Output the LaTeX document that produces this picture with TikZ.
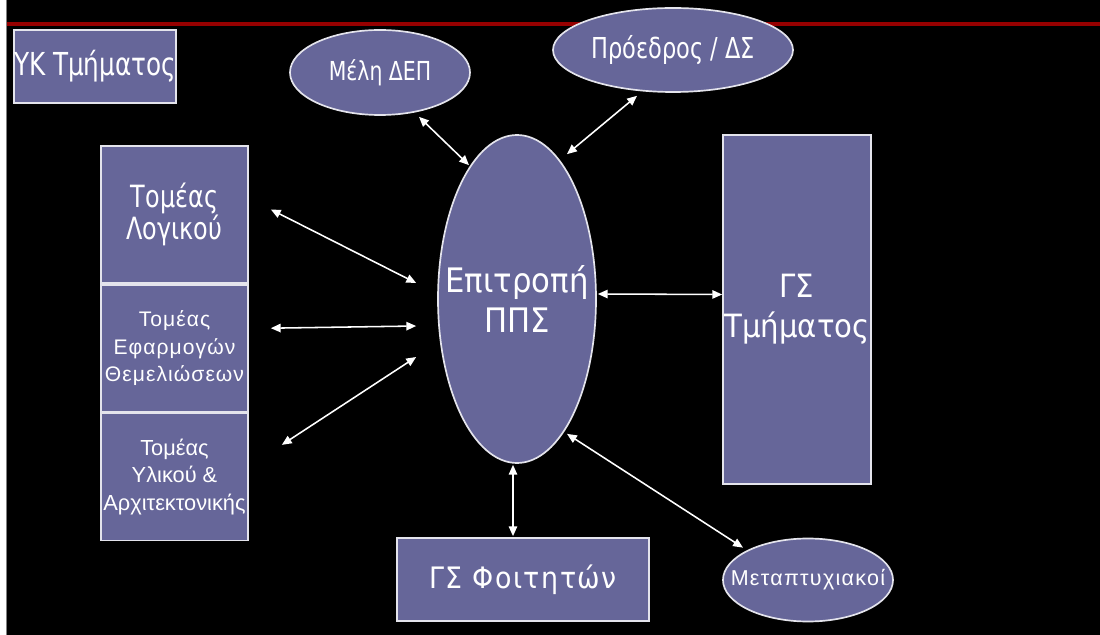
\documentclass[tikz,border=0pt]{standalone}
\usepackage{fontspec}
\usetikzlibrary{shapes.geometric,arrows.meta,positioning}
\newfontfamily\tahfont[FakeStretch=0.78]{DejaVu Sans}
\newfontfamily\tahancha[FakeStretch=0.91]{DejaVu Sans}
\newfontfamily\tahesp[FakeStretch=0.91,LetterSpace=5]{DejaVu Sans}
\newfontfamily\arifont[LetterSpace=5]{Liberation Sans}
\newfontfamily\arifontb{Liberation Sans}
\newfontfamily\arimeta[LetterSpace=6]{Liberation Sans}
\definecolor{lila}{RGB}{102,102,153}
\definecolor{borde}{RGB}{228,228,236}
\definecolor{rojo}{RGB}{150,0,0}
\newcommand{\pixu}{0.025cm}

\begin{document}
\begin{tikzpicture}[x=0.025cm, y=-0.025cm,
    caja/.style={draw=borde, line width=1.2pt, fill=lila, rectangle, text=white, align=center, inner sep=0pt},
    elipse/.style={draw=borde, line width=1.2pt, fill=lila, ellipse, inner sep=0pt},
    etiq/.style={text=white, align=center, inner sep=0pt},
    flecha/.style={white, line width=1.1pt, {Triangle[length=7pt,width=6pt]}-{Triangle[length=7pt,width=6pt]}}]
    \useasboundingbox (0,0) rectangle (1100,635);

    % Fondo
    \fill[white] (0,0) rectangle (7,635);
    \fill[black] (7,0) rectangle (1100,635);
    \draw[gray, line width=0.6pt] (6.5,0) -- (6.5,635);
    \draw[rojo, line width=2.2pt] (7,24) -- (1100,24);

    % Nodos principales
    \node (yk) [caja, minimum width=160*\pixu, minimum height=73*\pixu,
        font=\tahfont\fontsize{22.5}{27}\selectfont] at (95,66.5) {ΥΚ Τμήματος};

    \node (mel) [elipse, minimum width=180*\pixu, minimum height=85*\pixu,
        label={[etiq, font=\tahfont\fontsize{18.6}{22}\selectfont]center:Μέλη ΔΕΠ}] at (380,72.5) {};

    \node (pro) [elipse, minimum width=240*\pixu, minimum height=84*\pixu,
        label={[etiq, font=\tahfont\fontsize{20.5}{25}\selectfont]center:Πρόεδρος / ΔΣ}] at (673,50) {};

    \node (log) [caja, minimum width=147*\pixu, minimum height=137*\pixu,
        font=\tahfont\fontsize{21.8}{20}\selectfont] at (174.5,214.5) {Τομέας\\Λογικού};

    \node (efa) [caja, below=0pt of log, minimum width=147*\pixu, minimum height=127*\pixu,
        font=\arifont\fontsize{15}{19.5}\selectfont] {Τομέας\\Εφαρμογών\\Θεμελιώσεων};

    \node (yli) [caja, below=0pt of efa, minimum width=147*\pixu, minimum height=127*\pixu,
        font=\arifontb\fontsize{15.5}{19.7}\selectfont] {Τομέας\\Υλικού \&\\Αρχιτεκτονικής};

    \node (pps) [elipse, minimum width=158*\pixu, minimum height=328*\pixu,
        label={[etiq, font=\tahancha\fontsize{24}{28.5}\selectfont]center:Επιτροπή\\ΠΠΣ}] at (517,299) {};

    \node (gsT) [caja, minimum width=148*\pixu, minimum height=349*\pixu,
        font=\tahancha\fontsize{22.8}{28.5}\selectfont] at (797,309.5) {ΓΣ\\Τμήματος};

    \node (gsF) [caja, minimum width=252*\pixu, minimum height=83*\pixu,
        font=\tahesp\fontsize{21}{25}\selectfont] at (523,579.5) {ΓΣ Φοιτητών};

    \node (met) [elipse, minimum width=170*\pixu, minimum height=83*\pixu,
        label={[etiq, font=\arimeta\fontsize{15.3}{18}\selectfont]center:Μεταπτυχιακοί}] at (808,580) {};

    % Flechas de conexión
    \draw[flecha] ([shift={(39,1)}]mel.south) -- ([shift={(-48,31)}]pps.north);
    \draw[flecha] ([shift={(-36,3)}]pro.south) -- ([shift={(50,20)}]pps.north);
    \draw[flecha] ([shift={(22,-5)}]log.east) -- ([shift={(-21,-16)}]pps.west);
    \draw[flecha] ([shift={(22,-20)}]efa.east) -- ([shift={(-21,27)}]pps.west);
    \draw[flecha] ([shift={(33,-32)}]yli.east) -- ([shift={(-21,58)}]pps.west);
    \draw[flecha] ([shift={(1,-5)}]pps.east) -- ([shift={(0,-15)}]gsT.west);
    \draw[flecha] ([shift={(-4,1)}]pps.south) -- ([shift={(-10,-1)}]gsF.north);
    \draw[flecha] ([shift={(50,-30)}]pps.south) -- ([shift={(-65,10)}]met.north);
\end{tikzpicture}
\end{document}
